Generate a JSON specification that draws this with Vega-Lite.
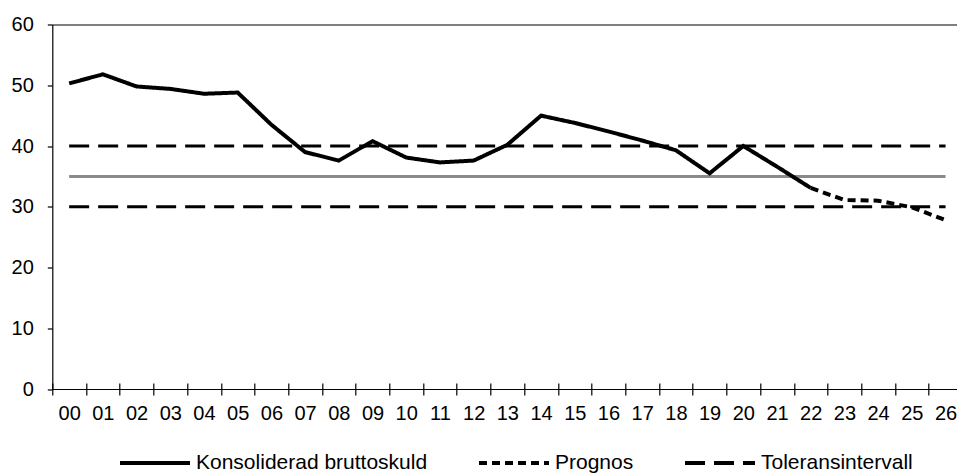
{
  "$schema": "https://vega.github.io/schema/vega-lite/v6.json",
  "width": 904.7,
  "height": 364.5,
  "autosize": {"type": "none"},
  "padding": {"left": 52.3, "top": 24.5, "right": 0, "bottom": 84},
  "background": "white",
  "config": {
    "view": {"stroke": null},
    "font": "Liberation Sans",
    "axis": {"grid": false, "domainColor": "black", "tickColor": "black", "labelColor": "black", "labelFont": "Liberation Sans", "labelFontSize": 20, "title": null, "domainWidth": 1.2, "tickWidth": 1.2}
  },
  "data": {
    "values": [
      {"year": 0, "value": 50.3, "series": "Konsoliderad bruttoskuld", "grp": "a"},
      {"year": 1, "value": 51.8, "series": "Konsoliderad bruttoskuld", "grp": "a"},
      {"year": 2, "value": 49.8, "series": "Konsoliderad bruttoskuld", "grp": "a"},
      {"year": 3, "value": 49.4, "series": "Konsoliderad bruttoskuld", "grp": "a"},
      {"year": 4, "value": 48.6, "series": "Konsoliderad bruttoskuld", "grp": "a"},
      {"year": 5, "value": 48.8, "series": "Konsoliderad bruttoskuld", "grp": "a"},
      {"year": 6, "value": 43.5, "series": "Konsoliderad bruttoskuld", "grp": "a"},
      {"year": 7, "value": 39.0, "series": "Konsoliderad bruttoskuld", "grp": "a"},
      {"year": 8, "value": 37.6, "series": "Konsoliderad bruttoskuld", "grp": "a"},
      {"year": 9, "value": 40.8, "series": "Konsoliderad bruttoskuld", "grp": "a"},
      {"year": 10, "value": 38.1, "series": "Konsoliderad bruttoskuld", "grp": "a"},
      {"year": 11, "value": 37.3, "series": "Konsoliderad bruttoskuld", "grp": "a"},
      {"year": 12, "value": 37.6, "series": "Konsoliderad bruttoskuld", "grp": "a"},
      {"year": 13, "value": 40.2, "series": "Konsoliderad bruttoskuld", "grp": "a"},
      {"year": 14, "value": 45.0, "series": "Konsoliderad bruttoskuld", "grp": "a"},
      {"year": 15, "value": 43.8, "series": "Konsoliderad bruttoskuld", "grp": "a"},
      {"year": 16, "value": 42.4, "series": "Konsoliderad bruttoskuld", "grp": "a"},
      {"year": 17, "value": 40.9, "series": "Konsoliderad bruttoskuld", "grp": "a"},
      {"year": 18, "value": 39.3, "series": "Konsoliderad bruttoskuld", "grp": "a"},
      {"year": 19, "value": 35.5, "series": "Konsoliderad bruttoskuld", "grp": "a"},
      {"year": 20, "value": 40.0, "series": "Konsoliderad bruttoskuld", "grp": "a"},
      {"year": 21, "value": 36.6, "series": "Konsoliderad bruttoskuld", "grp": "a"},
      {"year": 22, "value": 33.1, "series": "Konsoliderad bruttoskuld", "grp": "a"},
      {"year": 22, "value": 33.1, "series": "Prognos", "grp": "p"},
      {"year": 23, "value": 31.1, "series": "Prognos", "grp": "p"},
      {"year": 24, "value": 31.0, "series": "Prognos", "grp": "p"},
      {"year": 25, "value": 29.9, "series": "Prognos", "grp": "p"},
      {"year": 26, "value": 27.8, "series": "Prognos", "grp": "p"},
      {"year": 0, "value": 40, "series": "Toleransintervall", "grp": "upper"},
      {"year": 26, "value": 40, "series": "Toleransintervall", "grp": "upper"},
      {"year": 0, "value": 30, "series": "Toleransintervall", "grp": "lower"},
      {"year": 26, "value": 30, "series": "Toleransintervall", "grp": "lower"},
      {"year": 0, "value": 35, "series": "Mål", "grp": "target"},
      {"year": 26, "value": 35, "series": "Mål", "grp": "target"}
    ]
  },
  "resolve": {"axis": {"x": "independent"}},
  "layer": [
    {
      "transform": [{"filter": "datum.series === 'Mål'"}],
      "mark": {"type": "line", "color": "#8a8a8a", "strokeWidth": 3},
      "encoding": {
        "x": {"field": "year", "type": "quantitative", "scale": {"domain": [-0.5, 26.34], "nice": false, "zero": false},
          "axis": {"orient": "bottom", "values": [-0.5, 0.5, 1.5, 2.5, 3.5, 4.5, 5.5, 6.5, 7.5, 8.5, 9.5, 10.5, 11.5, 12.5, 13.5, 14.5, 15.5, 16.5, 17.5, 18.5, 19.5, 20.5, 21.5, 22.5, 23.5, 24.5, 25.5], "tickSize": 12, "offset": -6, "domain": false, "labels": false, "ticks": true}},
        "y": {"field": "value", "type": "quantitative", "scale": {"domain": [0, 60], "nice": false},
          "axis": {"values": [0, 10, 20, 30, 40, 50, 60], "tickSize": 5, "labelPadding": 14}}
      }
    },
    {
      "transform": [{"filter": "datum.series === 'Toleransintervall'"}],
      "mark": {"type": "line", "color": "black", "strokeWidth": 3},
      "encoding": {
        "x": {"field": "year", "type": "quantitative",
          "axis": {"orient": "bottom", "values": [0, 1, 2, 3, 4, 5, 6, 7, 8, 9, 10, 11, 12, 13, 14, 15, 16, 17, 18, 19, 20, 21, 22, 23, 24, 25, 26], "ticks": false, "tickSize": 0, "domain": true, "labelPadding": 14, "labelFlush": false, "labelOverlap": false, "labelExpr": "datum.value < 10 ? '0' + datum.value : '' + datum.value"}},
        "y": {"field": "value", "type": "quantitative"},
        "detail": {"field": "grp"},
        "strokeDash": {"field": "series", "type": "nominal",
          "scale": {"domain": ["Konsoliderad bruttoskuld", "Prognos", "Toleransintervall"], "range": [[1, 0], [8, 5], [20, 9]]},
          "legend": {"orient": "none", "legendX": 65.7, "legendY": 401.5, "direction": "horizontal", "title": null, "symbolType": "stroke", "symbolSize": 4900, "symbolStrokeWidth": 4, "symbolStrokeColor": "black", "labelFontSize": 21, "labelFont": "Liberation Sans", "labelColor": "black", "columnPadding": 43, "labelOffset": 4, "padding": 0, "labelLimit": 0}}
      }
    },
    {
      "transform": [{"filter": "datum.series === 'Konsoliderad bruttoskuld' || datum.series === 'Prognos'"}],
      "mark": {"type": "line", "color": "black", "strokeWidth": 4},
      "encoding": {
        "x": {"field": "year", "type": "quantitative",
          "axis": {"orient": "top", "ticks": false, "labels": false, "domain": true}},
        "y": {"field": "value", "type": "quantitative"},
        "detail": {"field": "grp"},
        "strokeDash": {"field": "series", "type": "nominal"}
      }
    }
  ]
}
